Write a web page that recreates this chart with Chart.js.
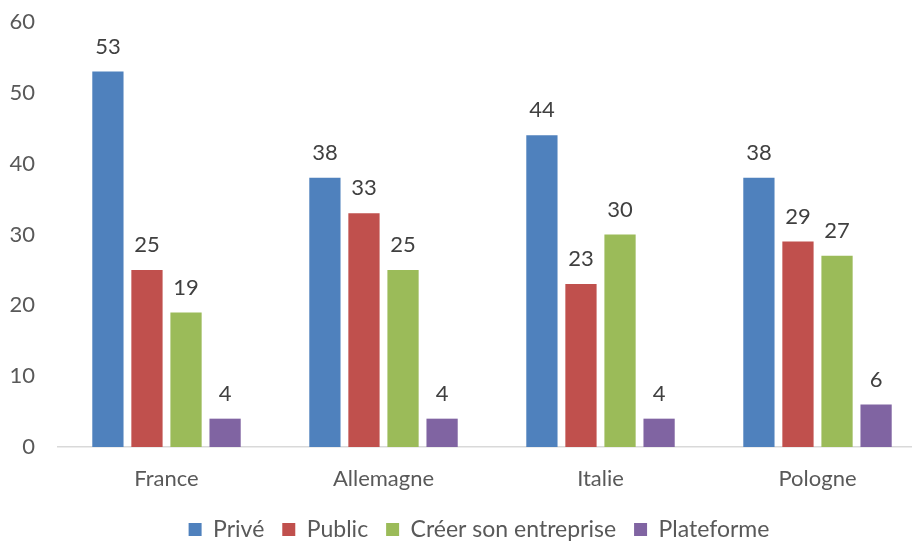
<!DOCTYPE html>
<html>
<head>
<meta charset="utf-8">
<script src="https://cdn.jsdelivr.net/npm/chart.js@4/dist/chart.umd.min.js"></script>
<style>
  html, body { margin: 0; padding: 0; background: #fff; overflow: hidden; }
  #wrap { width: 926px; height: 541px; }
</style>
</head>
<body>
<div id="wrap"><canvas id="chart"></canvas></div>
<script>
//data
const countries = ['France', 'Allemagne', 'Italie', 'Pologne'];
const seriesNames = ['Privé', 'Public', 'Créer son entreprise', 'Plateforme'];
const prive = [53, 38, 44, 38];
const publicVals = [25, 33, 23, 29];
const entreprise = [19, 25, 30, 27];
const plateforme = [4, 4, 4, 6];
const yTicks = [0, 10, 20, 30, 40, 50, 60];

const colors = ['#4F81BD', '#C0504D', '#9BBB59', '#8064A2'];
const fontFamily = 'Lato, "Open Sans", sans-serif';

//value labels above bars
const valueLabels = {
  id: 'valueLabels',
  afterDatasetsDraw(chart) {
    const ctx = chart.ctx;
    ctx.save();
    ctx.font = '22px ' + fontFamily;
    ctx.fillStyle = '#404040';
    ctx.textAlign = 'center';
    ctx.textBaseline = 'middle';
    chart.data.datasets.forEach((ds, i) => {
      chart.getDatasetMeta(i).data.forEach((bar, j) => {
        ctx.fillText(ds.data[j], bar.x, bar.y - 25);
      });
    });
    ctx.restore();
  }
};

//legend sits a bit right of the canvas centre
const legendShift = {
  id: 'legendShift',
  afterLayout(chart) {
    chart.legend.left += 16;
    chart.legend.right += 16;
  }
};

const makeDataset = (label, data, color) => ({
  label,
  data,
  backgroundColor: color,
  borderWidth: 0,
  categoryPercentage: 0.72,
  barPercentage: 0.8,
});

new Chart(document.querySelector('#chart'), {
  type: 'bar',
  data: {
    labels: countries,
    datasets: [
      makeDataset(seriesNames[0], prive, colors[0]),
      makeDataset(seriesNames[1], publicVals, colors[1]),
      makeDataset(seriesNames[2], entreprise, colors[2]),
      makeDataset(seriesNames[3], plateforme, colors[3]),
    ],
  },
  options: {
    responsive: true,
    maintainAspectRatio: false,
    animation: false,
    layout: { padding: { top: 22, right: 0, bottom: -10, left: 0 } },
    plugins: {
      tooltip: { enabled: false },
      legend: {
        position: 'bottom',
        labels: {
          boxWidth: 13,
          boxHeight: 13,
          padding: 18,
          color: '#595959',
          font: { family: fontFamily, size: 23 },
        },
      },
    },
    scales: {
      x: {
        afterFit: (axis) => {
          axis.height = 53;
        },
        grid: { display: false, drawTicks: false },
        border: { display: true, color: '#D9D9D9', width: 1.5 },
        ticks: {
          color: '#595959',
          padding: 19,
          font: { family: fontFamily, size: 22 },
        },
      },
      y: {
        min: 0,
        max: 60,
        afterBuildTicks: (axis) => {
          axis.ticks = yTicks.map((v) => ({ value: v }));
        },
        afterFit: (axis) => {
          axis.width = 58;
          axis.paddingTop = 0;
          axis.paddingBottom = 0;
        },
        grid: { display: false, drawTicks: false },
        border: { display: false },
        ticks: {
          color: '#595959',
          padding: 23,
          font: { family: fontFamily, size: 22 },
        },
      },
    },
  },
  plugins: [valueLabels, legendShift],
});
</script>
</body>
</html>
